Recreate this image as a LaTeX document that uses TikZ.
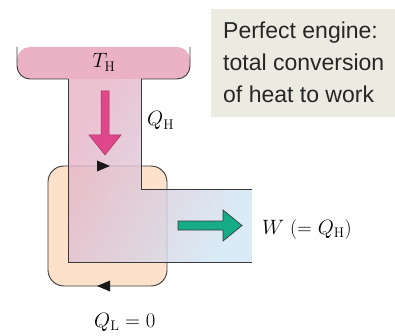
\documentclass[tikz,border=0pt]{standalone}
\usepackage{fontspec}
\newfontfamily\boxfont{Liberation Sans}
\usetikzlibrary{arrows.meta}
\definecolor{respink}{HTML}{EBB1C4}
\definecolor{bandpink}{HTML}{E7B3C6}
\definecolor{bandmid}{HTML}{D6BCD0}
\definecolor{bandblue}{HTML}{D0E7F4}
\definecolor{peach}{HTML}{FDE1CB}
\definecolor{magarrow}{HTML}{E0468A}
\definecolor{greenarrow}{HTML}{16AC88}
\definecolor{notebg}{HTML}{ECEBE1}
\definecolor{edge}{HTML}{3A3A3A}
\tikzset{
  outline/.style={draw=edge, line width=0.9pt},
  mathlabel/.style={font=\fontsize{20}{24}\selectfont, inner sep=0pt},
  notetext/.style={font=\boxfont\fontsize{23}{28}\selectfont, text=black!85, inner sep=0pt, anchor=base west},
  tiptri/.style={fill=black!90, draw=none}
}
\begin{document}
\begin{tikzpicture}[x=1pt,y=-1pt]
\useasboundingbox (0,0) rectangle (395,336);
% note box
\fill[notebg] (211,9) rectangle (395,117);
\node[notetext] (l1) at (223,39) {Perfect engine:};
\node[notetext] (l2) at (223,71) {total conversion};
\node[notetext] (l3) at (223,103) {of heat to work};
% hot reservoir
\fill[respink, rounded corners=13pt] (17,47) -- (17,79) -- (190,79) -- (190,47) -- cycle;
\draw[outline, rounded corners=13pt] (17,47) -- (17,79) -- (68,79);
\draw[outline, rounded corners=13pt] (141,79) -- (190,79) -- (190,47);
\node[mathlabel, anchor=base] (th) at (104,68) {$T_{\mathrm{H}}$};
% engine
\filldraw[fill=peach, outline, rounded corners=16pt] (48,166) rectangle (167,286);
% heat/work band
\shade[left color=bandpink, middle color=bandmid, right color=bandblue, shading angle=62, opacity=0.82]
  (68,79) -- (68,262) -- (252,262) -- (252,189) -- (141,189) -- (141,79) -- cycle;
\draw[outline] (141,79) -- (141,189) -- (252,189);
\draw[outline] (252,262) -- (68,262) -- (68,79);
% engine cycle arrow tips
\coordinate (ctop) at (103,166);
\coordinate (cbot) at (104,286);
\fill[tiptri] (110,166) -- (97,160.5) -- (97,171.5) -- cycle;
\fill[tiptri] (97,286) -- (110,280.5) -- (110,291.5) -- cycle;
% heat arrow
\filldraw[fill=magarrow, draw=magarrow!70!black, line width=0.5pt]
  (101,91) -- (109,91) -- (109,135) -- (121,135) -- (105,155) -- (89,135) -- (101,135) -- cycle;
\node[mathlabel, anchor=base west] (qh) at (147,126) {$Q_{\mathrm{H}}$};
% work arrow
\filldraw[fill=greenarrow, draw=edge, line width=0.7pt]
  (178,221) -- (223,221) -- (223,210) -- (242,225.5) -- (223,241) -- (223,230) -- (178,230) -- cycle;
\node[mathlabel, anchor=base west] (w) at (262,234) {$W$ (= $Q_{\mathrm{H}}$)};
% cold side
\node[mathlabel, anchor=base west] (ql) at (94,327) {$Q_{\mathrm{L}} = 0$};
\end{tikzpicture}
\end{document}
